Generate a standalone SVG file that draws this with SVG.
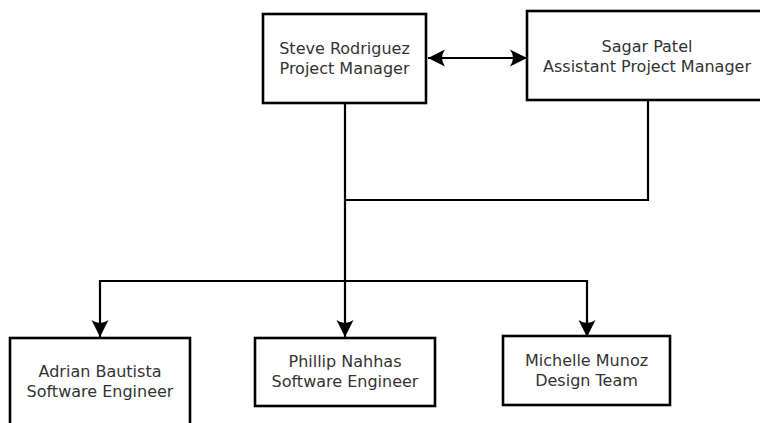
<svg xmlns="http://www.w3.org/2000/svg" width="760" height="423" viewBox="0 0 760 423">
<style>
.box{fill:#fff;stroke:#000;stroke-width:2.6}
.lbl{font-family:"DejaVu Sans",sans-serif;font-size:16px;fill:#333;text-anchor:middle}
.con{fill:none;stroke:#000;stroke-width:2.2}
</style>
<defs>
<marker id="ah" markerUnits="userSpaceOnUse" viewBox="-18 -9 19 18" refX="0" refY="0" markerWidth="19" markerHeight="18" orient="auto-start-reverse">
<path d="M0,0 L-17,-8.5 Q-11,0 -17,8.5 Z" fill="#000"/>
</marker>
</defs>
<rect width="760" height="423" fill="#fff"/>
<g id="connectors">
<path class="con" d="M345,103 V337" marker-end="url(#ah)"/>
<path class="con" d="M648,100 V200 H345"/>
<path class="con" d="M100,337 V281 H587 V337" marker-start="url(#ah)" marker-end="url(#ah)"/>
<path class="con" d="M428,58 H527" marker-start="url(#ah)" marker-end="url(#ah)"/>
</g>
<g id="steve">
<rect class="box" x="263" y="14" width="163" height="89"/>
<text class="lbl" x="344.5" y="54">Steve Rodriguez</text>
<text class="lbl" x="344.5" y="74">Project Manager</text>
</g>
<g id="sagar">
<rect class="box" x="527" y="11" width="242" height="89"/>
<text class="lbl" x="647" y="52">Sagar Patel</text>
<text class="lbl" x="647" y="72">Assistant Project Manager</text>
</g>
<g id="adrian">
<rect class="box" x="10" y="338" width="180" height="95"/>
<text class="lbl" x="100" y="377">Adrian Bautista</text>
<text class="lbl" x="100" y="397">Software Engineer</text>
</g>
<g id="phillip">
<rect class="box" x="255" y="338" width="180" height="68"/>
<text class="lbl" x="345" y="367">Phillip Nahhas</text>
<text class="lbl" x="345" y="387">Software Engineer</text>
</g>
<g id="michelle">
<rect class="box" x="503" y="336" width="167" height="69"/>
<text class="lbl" x="586.5" y="366">Michelle Munoz</text>
<text class="lbl" x="586.5" y="386">Design Team</text>
</g>
</svg>
